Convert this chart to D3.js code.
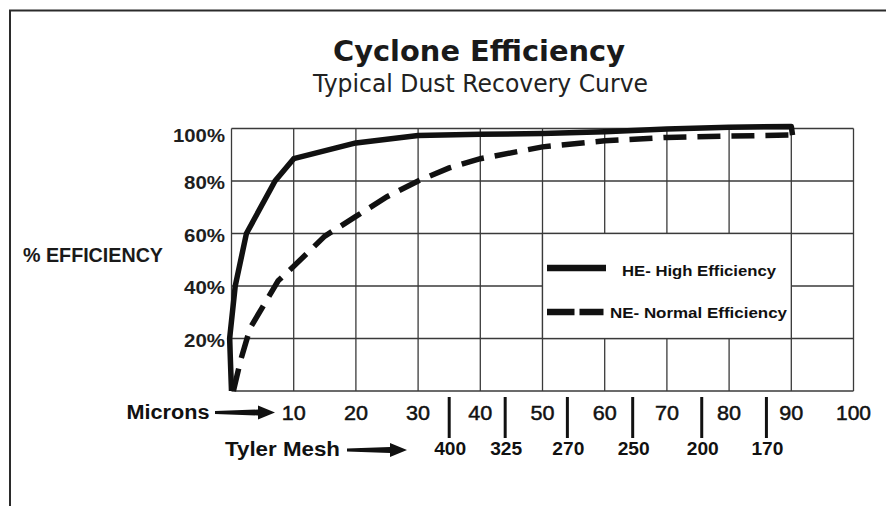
<!DOCTYPE html>
<html>
<head>
<meta charset="utf-8">
<title>Cyclone Efficiency</title>
<script src="https://cdn.jsdelivr.net/npm/d3@7"></script>
<style>
    body { margin: 0; background: white; }
    svg { display: block; }
    .grid line { stroke: #3a3a3a; stroke-width: 1.3; }
</style>
</head>
<body>
<svg id="chart" width="886" height="506"></svg>
<script>
    // data (x in microns, y in % efficiency)
    var heMicrons = [0, -0.3, 0.6, 2.4, 7, 10, 20, 30, 40, 50, 60, 70, 80, 90, 90.2]
    var heEff     = [0, 20, 40, 60, 80, 88.5, 94.5, 97.3, 97.8, 98.1, 98.8, 99.8, 100.5, 100.8, 97.5]
    var neMicrons = [0.3, 1.5, 3, 5.5, 7.5, 10, 15, 20, 25, 30, 35, 40, 50, 60, 70, 80, 90]
    var neEff     = [0, 12, 24, 34, 42, 47.5, 59, 66.5, 74, 80, 85, 88.5, 93, 95.3, 96.6, 97.1, 97.5]
    var micronTicks = [10, 20, 30, 40, 50, 60, 70, 80, 90, 100]
    var pctTicks = [20, 40, 60, 80, 100]
    var meshLabels = ["400", "325", "270", "250", "200", "170"]
    var meshMicrons = [35, 44, 54, 64.5, 75.6, 86]

    var svg = d3.select("#chart")
    var x = d3.scaleLinear().domain([0, 100]).range([231.5, 853.5])
    var y = d3.scaleLinear().domain([0, 100]).range([391, 128.5])

    // outer frame (top + left only)
    svg.append("path")
        .attr("d", "M10,506 L10,10.5 L886,10.5")
        .attr("fill", "none")
        .attr("stroke", "#2b2b2b")
        .attr("stroke-width", 2)

    // titles
    svg.append("text")
        .attr("x", 333).attr("y", 61)
        .attr("textLength", 292).attr("lengthAdjust", "spacingAndGlyphs")
        .style("font", "bold 29px 'DejaVu Sans', sans-serif")
        .attr("fill", "#1a1a1a")
        .text("Cyclone Efficiency")
    svg.append("text")
        .attr("x", 313).attr("y", 92)
        .attr("textLength", 335).attr("lengthAdjust", "spacingAndGlyphs")
        .style("font", "25px 'DejaVu Sans', sans-serif")
        .attr("fill", "#222")
        .text("Typical Dust Recovery Curve")

    // grid
    var grid = svg.append("g").attr("class", "grid")
    grid.selectAll(".v").data(d3.range(0, 101, 10)).enter().append("line")
        .attr("x1", d => x(d)).attr("x2", d => x(d))
        .attr("y1", y(100)).attr("y2", y(0))
    grid.selectAll(".h").data(d3.range(0, 101, 20)).enter().append("line")
        .attr("x1", x(0)).attr("x2", x(100))
        .attr("y1", d => y(d)).attr("y2", d => y(d))

    // legend box sits over the grid
    svg.append("rect")
        .attr("x", x(50)).attr("y", y(60))
        .attr("width", x(90) - x(50)).attr("height", y(20) - y(60))
        .attr("fill", "white").attr("stroke", "#3a3a3a").attr("stroke-width", 1.3)

    var lbl = "'Liberation Sans', Arial, sans-serif"

    // y labels
    svg.selectAll(".ylab").data(pctTicks).enter().append("text")
        .attr("x", 225)
        .attr("y", d => y(d) + (d == 100 ? 13.5 : 8))
        .attr("text-anchor", "end")
        .attr("textLength", d => d == 100 ? 52 : 41).attr("lengthAdjust", "spacingAndGlyphs")
        .style("font", "bold 19px " + lbl)
        .attr("fill", "#1e1e1e")
        .text(d => d + "%")

    svg.append("text")
        .attr("x", 23).attr("y", 262)
        .attr("textLength", 140).attr("lengthAdjust", "spacingAndGlyphs")
        .style("font", "bold 19.5px " + lbl)
        .attr("fill", "#1a1a1a")
        .text("% EFFICIENCY")

    // curves
    var line = d3.line().x(d => x(d[0])).y(d => y(d[1]))
    svg.append("path")
        .datum(d3.zip(heMicrons, heEff))
        .attr("d", line)
        .attr("fill", "none").attr("stroke", "#111")
        .attr("stroke-width", 5.5).attr("stroke-linejoin", "round")
    svg.append("path")
        .datum(d3.zip(neMicrons, neEff))
        .attr("d", line)
        .attr("fill", "none").attr("stroke", "#111")
        .attr("stroke-width", 5.5)
        .attr("stroke-dasharray", "23,11")

    // legend
    svg.append("line")
        .attr("x1", 547).attr("x2", 606).attr("y1", 268).attr("y2", 268)
        .attr("stroke", "#111").attr("stroke-width", 6.5)
    svg.append("text")
        .attr("x", 622).attr("y", 275.5)
        .attr("textLength", 154).attr("lengthAdjust", "spacingAndGlyphs")
        .style("font", "bold 15.5px " + lbl).attr("fill", "#111")
        .text("HE- High Efficiency")
    svg.append("line")
        .attr("x1", 547).attr("x2", 603.5).attr("y1", 312).attr("y2", 312)
        .attr("stroke", "#111").attr("stroke-width", 6.5)
        .attr("stroke-dasharray", "27.5,5")
    svg.append("text")
        .attr("x", 610).attr("y", 318)
        .attr("textLength", 177).attr("lengthAdjust", "spacingAndGlyphs")
        .style("font", "bold 15.5px " + lbl).attr("fill", "#111")
        .text("NE- Normal Efficiency")

    // block arrows
    function arrow(x0, x1, cy) {
        var hx = x1 - 17
        return "M" + x0 + "," + (cy - 1.5) + " L" + hx + "," + (cy - 3) + " L" + hx + "," + (cy - 7) +
            " L" + x1 + "," + cy + " L" + hx + "," + (cy + 7) + " L" + hx + "," + (cy + 3) +
            " L" + x0 + "," + (cy + 1.5) + " Z"
    }

    // micron axis
    svg.append("text")
        .attr("x", 126.5).attr("y", 418.5)
        .attr("textLength", 83).attr("lengthAdjust", "spacingAndGlyphs")
        .style("font", "bold 19.5px " + lbl).attr("fill", "#111")
        .text("Microns")
    svg.append("path").attr("d", arrow(215, 275, 412.5)).attr("fill", "#111")
    svg.selectAll(".xlab").data(micronTicks).enter().append("text")
        .attr("x", d => x(d)).attr("y", 419.5)
        .attr("text-anchor", "middle")
        .attr("textLength", d => d == 100 ? 35 : 24).attr("lengthAdjust", "spacingAndGlyphs")
        .style("font", "21px " + lbl).attr("fill", "#111")
        .style("stroke", "#111").style("stroke-width", 0.5)
        .text(d => d)

    // tyler mesh
    svg.append("text")
        .attr("x", 225).attr("y", 455.5)
        .attr("textLength", 115).attr("lengthAdjust", "spacingAndGlyphs")
        .style("font", "bold 20.5px " + lbl).attr("fill", "#111")
        .text("Tyler Mesh")
    svg.append("path").attr("d", arrow(347, 407, 450)).attr("fill", "#111")
    svg.selectAll(".mbar").data(meshMicrons).enter().append("line")
        .attr("x1", d => x(d)).attr("x2", d => x(d))
        .attr("y1", 397).attr("y2", 438)
        .attr("stroke", "#111").attr("stroke-width", 3)
    svg.selectAll(".mlab").data(meshLabels).enter().append("text")
        .attr("x", (d, i) => x(meshMicrons[i]) + 1).attr("y", 455)
        .attr("text-anchor", "middle")
        .attr("textLength", 32).attr("lengthAdjust", "spacingAndGlyphs")
        .style("font", "bold 18.5px " + lbl).attr("fill", "#111")
        .text(d => d)
</script>
</body>
</html>
